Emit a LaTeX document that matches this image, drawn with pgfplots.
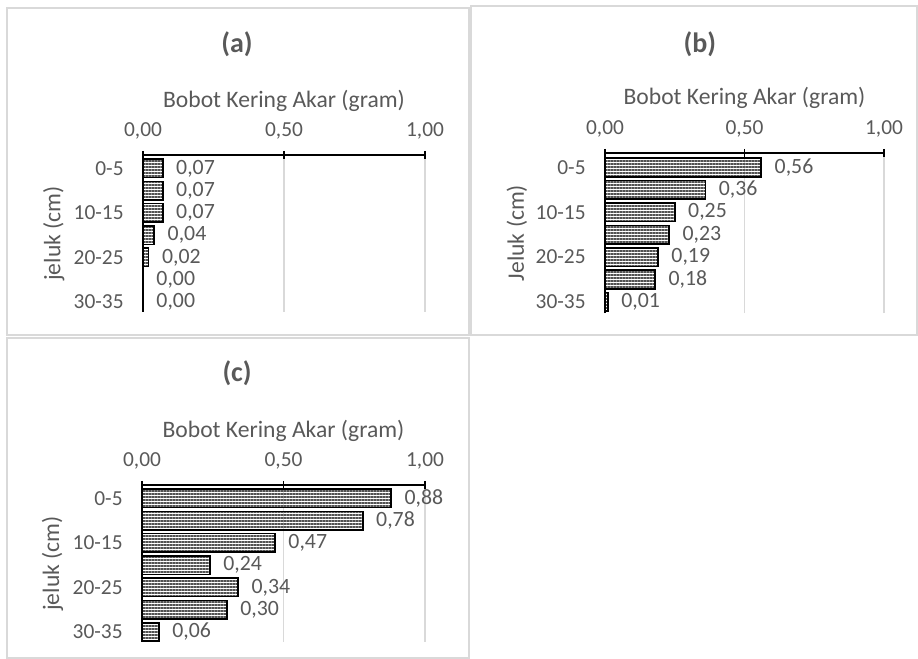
\documentclass[border=0pt]{standalone}
\usepackage{pgfplots}
\pgfplotsset{compat=1.18}
\usepackage{fontspec}
\setmainfont{Carlito}
\usetikzlibrary{patterns.meta}
\definecolor{txt}{HTML}{595959}
\definecolor{grd}{HTML}{D9D9D9}
\pgfplotsset{
 panel/.style={
  scale only axis, anchor=north west,
  xmin=0, xmax=1, ymin=-0.45, ymax=6.6,
  axis x line*=top, axis y line*=left,
  axis line style={-, black, line width=1pt},
  xtick={0,0.5,1}, xtick pos=upper, xticklabel pos=upper,
  tick align=center, major tick length=4pt,
  x tick style={black, line width=0.8pt},
  ytick={0,2,4,6}, yticklabels={30-35,20-25,10-15,0-5},
  y tick style={draw=none},
  xmajorgrids, major grid style={grd, line width=0.7pt},
  /pgf/number format/fixed, /pgf/number format/fixed zerofill,
  /pgf/number format/precision=2, /pgf/number format/use comma,
  /pgf/number format/assume math mode=true,
  tick label style={font=\fontsize{10.7}{12}\selectfont, text=txt},
  xticklabel style={anchor=south, inner sep=0pt, yshift=5.5pt},
  yticklabel style={anchor=east, inner sep=0pt, xshift=-5.5pt},
  label style={font=\fontsize{11.8}{14}\selectfont, text=txt},
  xlabel style={at={(axis description cs:0.5,1.344)}, anchor=center},
  ylabel style={at={(axis description cs:-0.316,0.5)}, anchor=center},
  title style={font=\bfseries\fontsize{14}{16}\selectfont, text=txt, anchor=center},
  xbar, bar width=0.83, point meta=x,
  nodes near coords,
  every node near coord/.append style={font=\fontsize{10.9}{12}\selectfont, text=txt, anchor=west, xshift=3pt},
  xlabel={Bobot Kering Akar (gram)},
 },
 barstyle/.style={draw=black, line width=0.8pt,
  pattern={Lines[angle=0,distance=1.5pt,line width=0.75pt]}, pattern color=black!68},
}
\begin{document}
\begin{tikzpicture}
\path[use as bounding box] (0,0) rectangle (459pt,329.5pt);
\draw[grd, line width=0.8pt] (3.5pt,325.5pt) rectangle (234.5pt,162pt);
\draw[grd, line width=0.8pt] (235.5pt,326.5pt) rectangle (458.5pt,162pt);
\draw[grd, line width=0.8pt] (3.5pt,160.5pt) rectangle (234.5pt,0.5pt);

\begin{axis}[panel, at={(71.5pt,252pt)}, width=141pt, height=78.5pt,
  ylabel={jeluk (cm)},
  title={(a)}, title style={at={(axis description cs:0.333,1.63)}}]
\addplot[barstyle] coordinates {(0.07,6) (0.07,5) (0.07,4) (0.04,3) (0.02,2) (0.00,1) (0.00,0)};
\end{axis}

\begin{axis}[panel, at={(302.5pt,253pt)}, width=139.5pt, height=80pt,
  ymin=-0.5, ymax=6.65,
  ylabel={Jeluk (cm)},
  title={(b)}, title style={at={(axis description cs:0.34,1.605)}}]
\addplot[barstyle] coordinates {(0.56,6) (0.36,5) (0.25,4) (0.23,3) (0.19,2) (0.18,1) (0.01,0)};
\end{axis}

\begin{axis}[panel, at={(71pt,87pt)}, width=141.5pt, height=78.5pt,
  ylabel={jeluk (cm)},
  title={(c)}, title style={at={(axis description cs:0.336,1.637)}}]
\addplot[barstyle] coordinates {(0.88,6) (0.78,5) (0.47,4) (0.24,3) (0.34,2) (0.30,1) (0.06,0)};
\end{axis}
\end{tikzpicture}
\end{document}
